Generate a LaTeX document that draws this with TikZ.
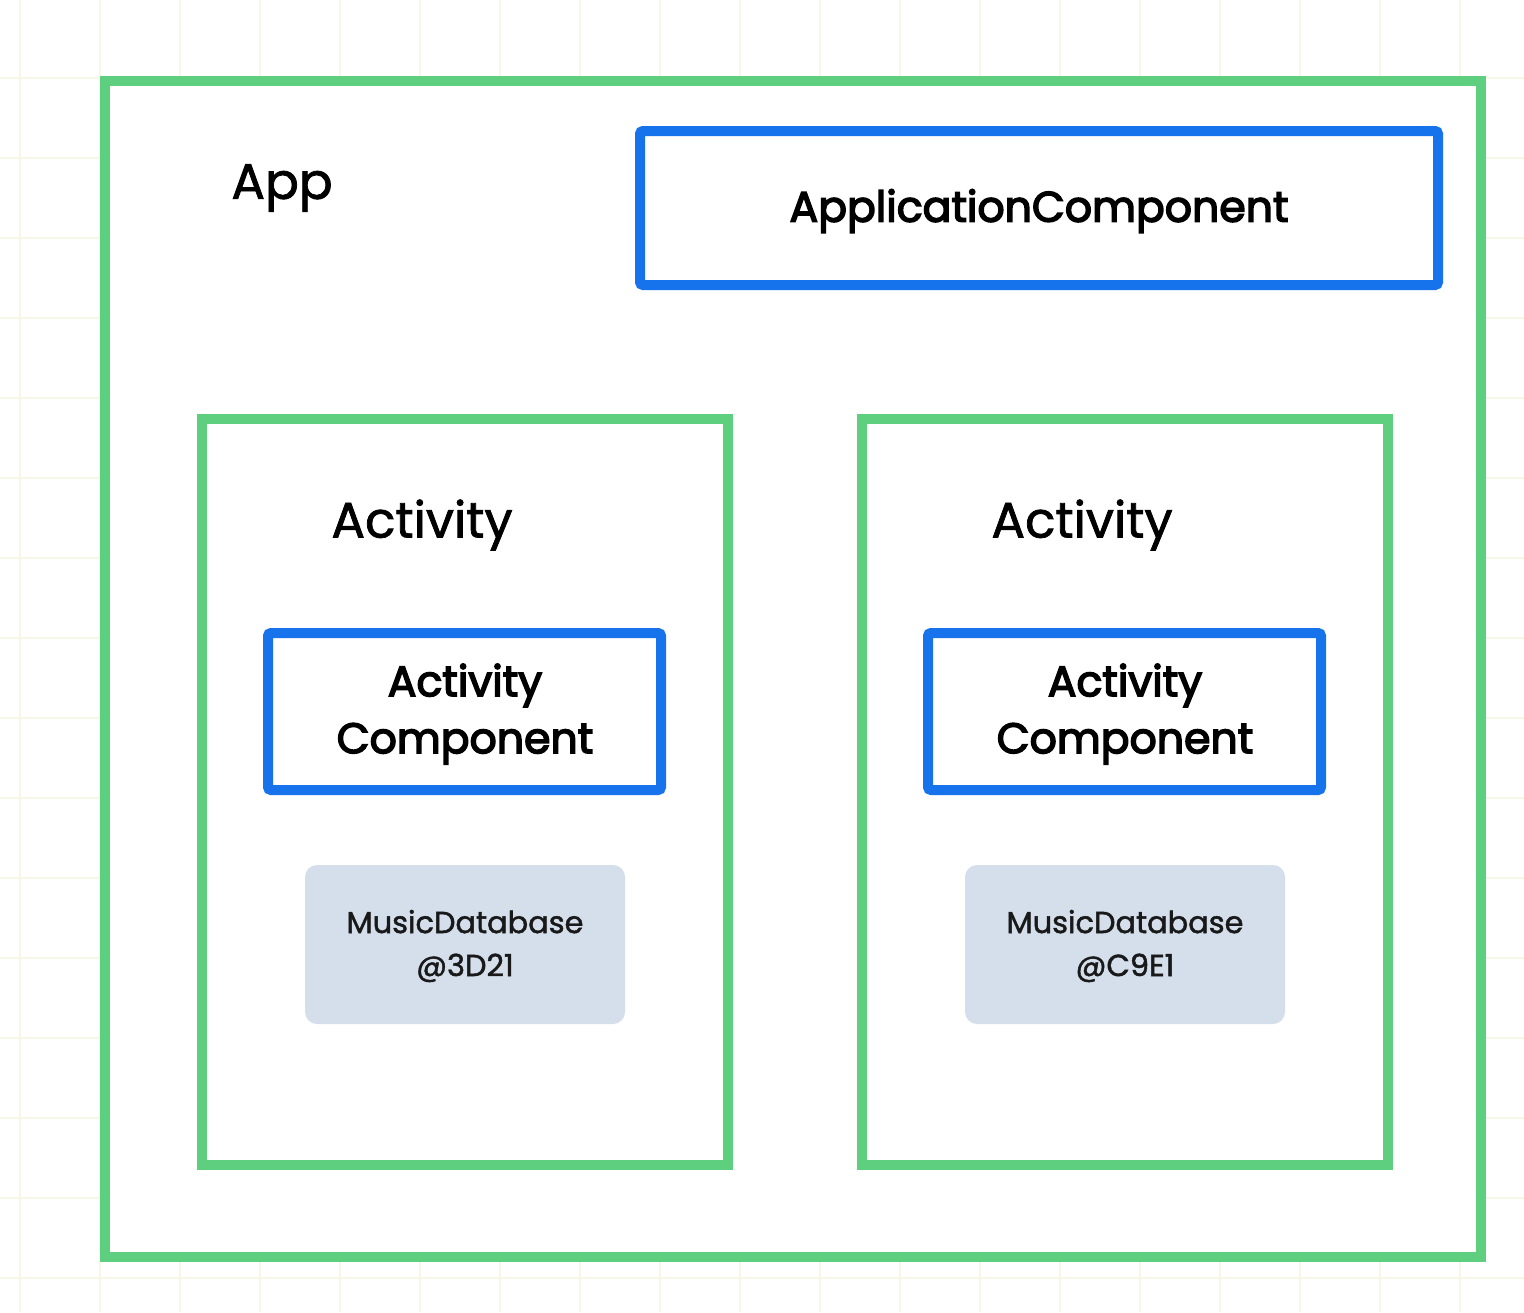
\documentclass[tikz,border=0pt]{standalone}
\usepackage{fontspec}
\setmainfont{Poppins}
\newfontfamily\medfont{Poppins}[FakeBold=3.5]
\newfontfamily\semifont{Poppins}[FakeBold=1.5]
\definecolor{grn}{HTML}{5ECF7E}
\definecolor{blu}{HTML}{1673EC}
\definecolor{gry}{HTML}{D4DFEB}
\definecolor{gridc}{HTML}{F8F6E6}
\begin{document}
\begin{tikzpicture}[x=0.5pt,y=-0.5pt,
  greenbox/.style={draw=grn,line width=5pt},
  bluebox/.style={draw=blu,line width=5pt,rounded corners=1.5pt},
  dbbox/.style={fill=gry,rounded corners=6pt},
  lbl/.style={font=\semifont\fontsize{25}{30}\selectfont,text=black},
  blbl/.style={font=\medfont\fontsize{21.3}{28.5}\selectfont,text=black,align=center},
  dblbl/.style={font=\semifont\fontsize{15.2}{21.5}\selectfont,text=black!90,align=center}]
\useasboundingbox (0,0) rectangle (1524,1312);
\fill[white] (0,0) rectangle (1524,1312);
\foreach \gx in {20,100,...,1500} \draw[gridc,line width=1pt] (\gx,0) -- (\gx,1312);
\foreach \gy in {78,158,...,1300} \draw[gridc,line width=1pt] (0,\gy) -- (1524,\gy);
% outer app box
\draw[greenbox,fill=white] (105,81) rectangle (1481,1257);
\node[lbl] (app) at (282,188) {App};
% application component
\draw[bluebox] (640,131) rectangle (1438,285);
\node[blbl] (appcomp) at (1039,211) {ApplicationComponent};
% left activity
\draw[greenbox] (202,419) rectangle (728,1165);
\node[lbl] (act1) at (422,525) {Activity};
\draw[bluebox] (268,633) rectangle (661,790);
\node[blbl] (ac1) at (465,714) {Activity\\Component};
\fill[dbbox] (305,865) rectangle (625,1024);
\node[dblbl] (db1) at (465,946) {MusicDatabase\\@3D21};
% right activity
\draw[greenbox] (862,419) rectangle (1388,1165);
\node[lbl] (act2) at (1082,525) {Activity};
\draw[bluebox] (928,633) rectangle (1321,790);
\node[blbl] (ac2) at (1125,714) {Activity\\Component};
\fill[dbbox] (965,865) rectangle (1285,1024);
\node[dblbl] (db2) at (1125,946) {MusicDatabase\\@C9E1};
\end{tikzpicture}
\end{document}
